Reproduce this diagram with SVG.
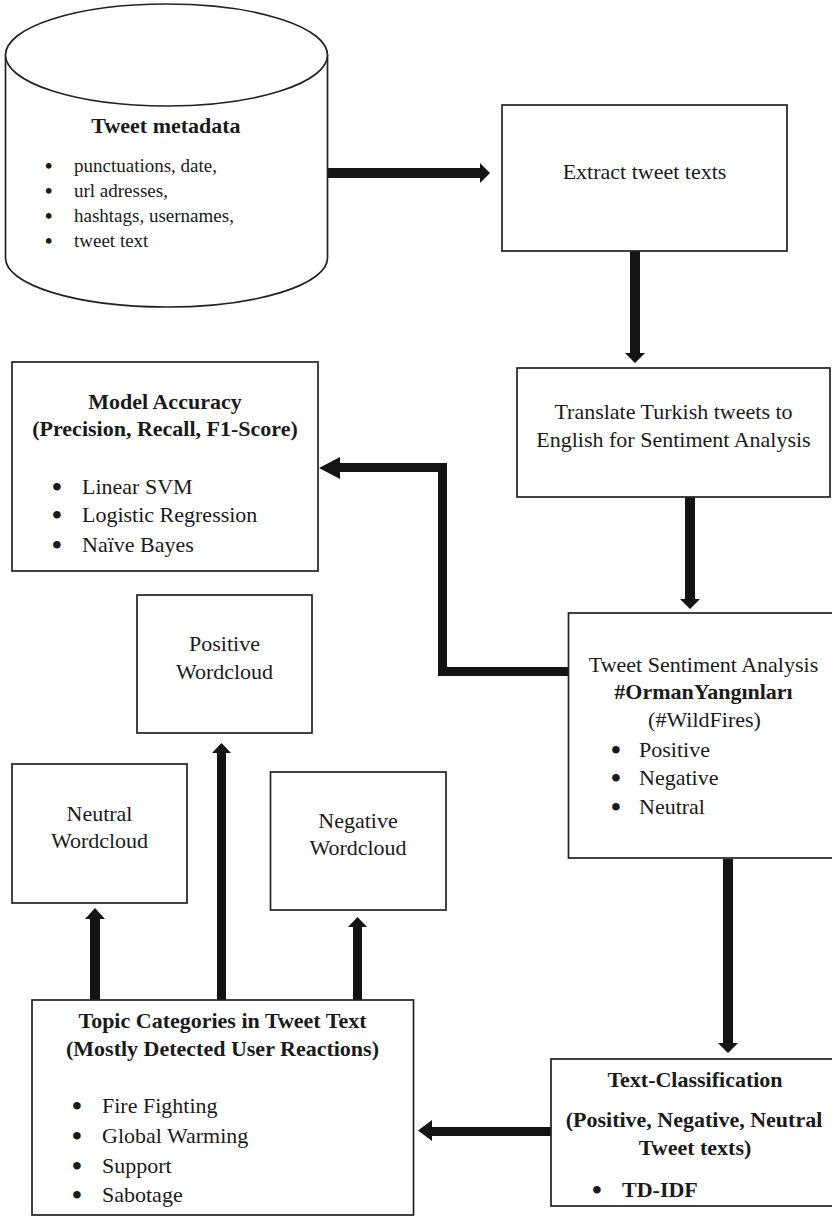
<svg xmlns="http://www.w3.org/2000/svg" width="832" height="1217" viewBox="0 0 832 1217">
<style>
.box{fill:#fff;stroke:#222;stroke-width:1.7}
.arr{fill:#141414;stroke:none}
text{font-family:"Liberation Serif","Times New Roman",serif;fill:#1a1a1a;font-size:22px}
.b{font-weight:bold}
.c{text-anchor:middle}
.s{font-size:19px}
.d{font-size:28px;font-weight:bold}
.e{font-size:21px;font-weight:bold}
</style>
<rect width="832" height="1217" fill="#fff"/>
<g id="connectors">
<polygon class="arr" points="327,168 480,168 480,163 490,173 480,183 480,178 327,178"/>
<polygon class="arr" points="630,251 640,251 640,353 645,353 635,363 625,353 630,353"/>
<polygon class="arr" points="685,497 695,497 695,599 700,599 690,609 680,599 685,599"/>
<polygon class="arr" points="569,676 438,676 438,472 340,472 340,479 319,468 340,457 340,463 447,463 447,667 569,667"/>
<polygon class="arr" points="723,859 733,859 733,1043 738,1043 728,1053 718,1043 723,1043"/>
<polygon class="arr" points="551,1127 551,1136 432,1136 432,1141 418,1130.5 432,1120 432,1127"/>
<polygon class="arr" points="90,1000 100,1000 100,919 105,919 95,908 85,919 90,919"/>
<polygon class="arr" points="217,1000 226,1000 226,753 231,753 221.5,743 212,753 217,753"/>
<polygon class="arr" points="353,1000 362,1000 362,927 367,927 357.5,917 348,927 353,927"/>
</g>
<g id="tweet-metadata">
<path class="box" d="M5.5,55 L5.5,258 A161,49 0 0 0 327.5,258 L327.5,55"/>
<ellipse class="box" cx="166.5" cy="55" rx="161" ry="51"/>
<text class="b c" x="166" y="133">Tweet metadata</text>
<text class="s"><tspan class="e" x="45" y="173">•</tspan><tspan x="74" y="172">punctuations, date,</tspan></text>
<text class="s"><tspan class="e" x="45" y="198">•</tspan><tspan x="74" y="197">url adresses,</tspan></text>
<text class="s"><tspan class="e" x="45" y="223">•</tspan><tspan x="74" y="222">hashtags, usernames,</tspan></text>
<text class="s"><tspan class="e" x="45" y="248">•</tspan><tspan x="74" y="247">tweet text</tspan></text>
</g>
<g id="extract">
<rect class="box" x="502" y="105" width="285" height="146"/>
<text class="c" x="644.5" y="179">Extract tweet texts</text>
</g>
<g id="translate">
<rect class="box" x="517" y="368" width="313" height="129"/>
<text class="c" x="673.5" y="419">Translate Turkish tweets to</text>
<text class="c" x="673.5" y="447">English for Sentiment Analysis</text>
</g>
<g id="model-accuracy">
<rect class="box" x="12" y="362" width="306" height="209"/>
<text class="b c" x="165" y="409">Model Accuracy</text>
<text class="b c" x="165" y="436">(Precision, Recall, F1-Score)</text>
<text><tspan class="d" x="52" y="496">•</tspan><tspan x="82" y="494">Linear SVM</tspan></text>
<text><tspan class="d" x="52" y="524">•</tspan><tspan x="82" y="522">Logistic Regression</tspan></text>
<text><tspan class="d" x="52" y="554">•</tspan><tspan x="82" y="552">Naïve Bayes</tspan></text>
</g>
<g id="positive-wordcloud">
<rect class="box" x="137" y="595" width="175" height="138"/>
<text class="c" x="224.5" y="651">Positive</text>
<text class="c" x="224.5" y="679">Wordcloud</text>
</g>
<g id="sentiment">
<rect class="box" x="568.5" y="613" width="275" height="245"/>
<text class="c" x="703.5" y="672">Tweet Sentiment Analysis</text>
<text class="b c" x="703.5" y="699">#OrmanYangınları</text>
<text class="c" x="704.5" y="727">(#WildFires)</text>
<text><tspan class="d" x="611" y="759">•</tspan><tspan x="639" y="757">Positive</tspan></text>
<text><tspan class="d" x="611" y="787">•</tspan><tspan x="639" y="785">Negative</tspan></text>
<text><tspan class="d" x="611" y="816">•</tspan><tspan x="639" y="814">Neutral</tspan></text>
</g>
<g id="neutral-wordcloud">
<rect class="box" x="12" y="764" width="175" height="139"/>
<text class="c" x="99.5" y="821">Neutral</text>
<text class="c" x="99.5" y="848">Wordcloud</text>
</g>
<g id="negative-wordcloud">
<rect class="box" x="270.5" y="772" width="175.5" height="138"/>
<text class="c" x="358" y="828">Negative</text>
<text class="c" x="358" y="855">Wordcloud</text>
</g>
<g id="topic-categories">
<rect class="box" x="32" y="1000" width="381.5" height="215"/>
<text class="b c" x="222.5" y="1028">Topic Categories in Tweet Text</text>
<text class="b c" x="222.5" y="1056">(Mostly Detected User Reactions)</text>
<text><tspan class="d" x="72" y="1115">•</tspan><tspan x="102" y="1113">Fire Fighting</tspan></text>
<text><tspan class="d" x="72" y="1145">•</tspan><tspan x="102" y="1143">Global Warming</tspan></text>
<text><tspan class="d" x="72" y="1175">•</tspan><tspan x="102" y="1173">Support</tspan></text>
<text><tspan class="d" x="72" y="1204">•</tspan><tspan x="102" y="1202">Sabotage</tspan></text>
</g>
<g id="text-classification">
<rect class="box" x="551" y="1059" width="290" height="147"/>
<text class="b c" x="695" y="1087">Text-Classification</text>
<text class="b c" x="694" y="1127">(Positive, Negative, Neutral</text>
<text class="b c" x="695" y="1155">Tweet texts)</text>
<text class="b"><tspan class="d" x="592" y="1199">•</tspan><tspan x="622" y="1197">TD-IDF</tspan></text>
</g>
</svg>
